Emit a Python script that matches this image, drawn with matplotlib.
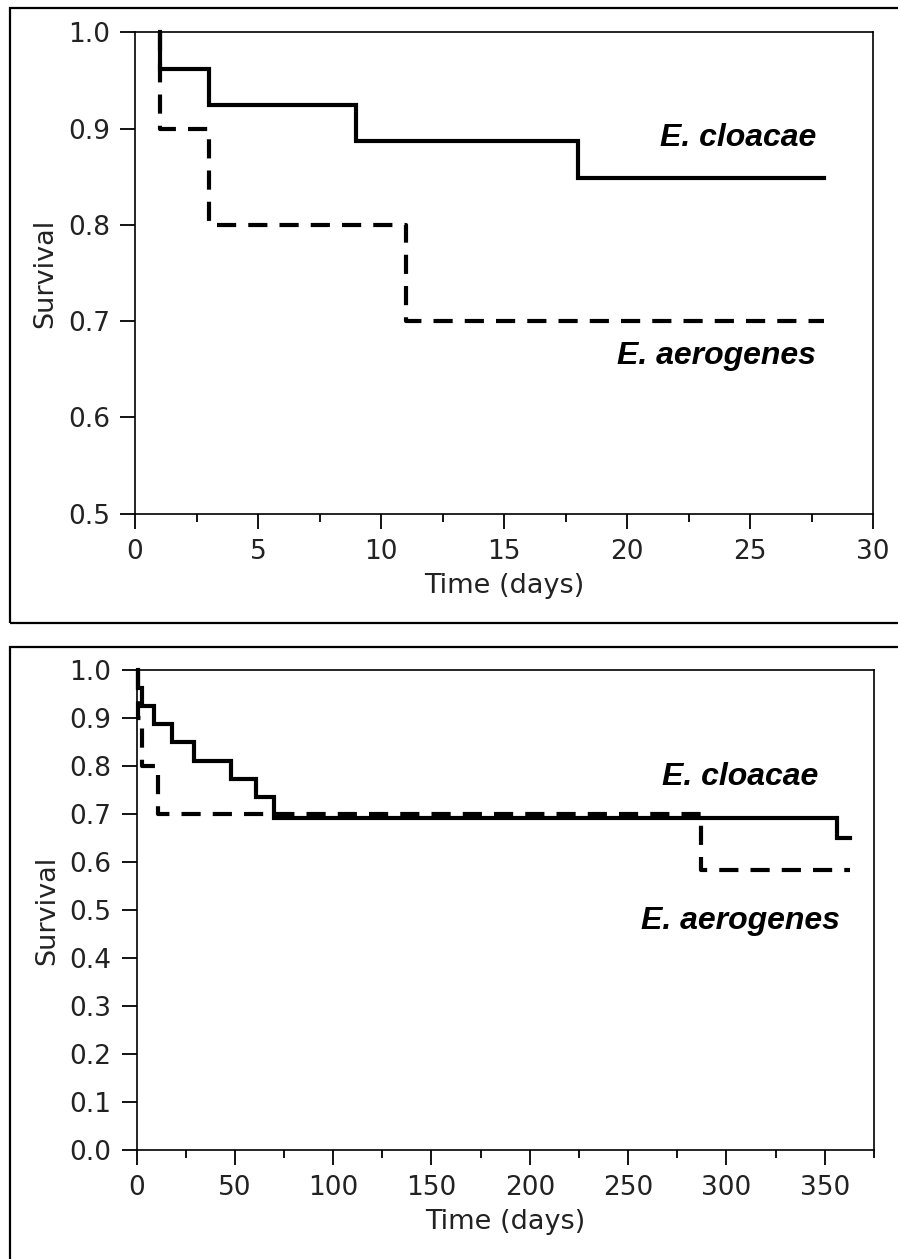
#Kaplan-Meier style survival curves for E. cloacae vs E. aerogenes
#Top panel: first 30 days, bottom panel: one year follow-up

import matplotlib
matplotlib.use("Agg")
import matplotlib.pyplot as plt
from matplotlib.patches import Rectangle
from matplotlib.ticker import MultipleLocator

#Data (event day, survival after event, last entry = end of follow-up)
#Top panel (days 0-30)
short_cloacae_days = [1, 3, 9, 18, 28]
short_cloacae_surv = [0.962, 0.925, 0.887, 0.849, 0.849]
short_aerogenes_days = [1, 3, 11, 28]
short_aerogenes_surv = [0.9, 0.8, 0.7, 0.7]

#Bottom panel (days 0-365)
long_cloacae_days = [1, 3, 9, 18, 29, 48, 61, 70, 356, 363]
long_cloacae_surv = [0.962, 0.925, 0.887, 0.849, 0.811, 0.773, 0.735, 0.692, 0.651, 0.651]
long_aerogenes_days = [1, 3, 11, 287, 363]
long_aerogenes_surv = [0.9, 0.8, 0.7, 0.583, 0.583]

labels = ["E. cloacae", "E. aerogenes"]

W, H = 898, 1259
fig = plt.figure(figsize=(W / 100, H / 100), dpi=100)
fig.patch.set_facecolor("white")

#Helper to convert pixel boxes to figure fractions
def px_box(left, top, right, bottom):
    return [left / W, 1 - bottom / H, (right - left) / W, (bottom - top) / H]

#Outer frames around each panel
for top, bottom in [(8, 623), (647, 1275)]:
    x0, y0, w, h = px_box(10, top, 910, bottom)
    fig.add_artist(Rectangle((x0, y0), w, h, transform=fig.transFigure,
                             fill=False, edgecolor="black", linewidth=1.6))

def style_axes(ax, xmax, xmajor, xminor, ymin, ymax):
    ax.set_xlim(0, xmax)
    ax.set_ylim(ymin, ymax)
    ax.xaxis.set_major_locator(MultipleLocator(xmajor))
    ax.xaxis.set_minor_locator(MultipleLocator(xminor))
    ax.yaxis.set_major_locator(MultipleLocator(0.1))
    ax.yaxis.set_major_formatter(plt.FuncFormatter(lambda v, p: f"{v:.1f}"))
    for sp in ax.spines.values():
        sp.set_linewidth(1.2)
    ax.tick_params(axis="both", which="major", direction="out", length=11,
                   width=1.3, labelsize=19, pad=7, colors="black")
    ax.tick_params(axis="x", which="minor", direction="out", length=6, width=1.3)
    ax.tick_params(axis="y", which="minor", left=False)
    for lab in ax.get_xticklabels() + ax.get_yticklabels():
        lab.set_color("#222222")
    ax.set_xlabel("Time (days)", fontsize=19.5, color="#222222", labelpad=6)
    ax.set_ylabel("Survival", fontsize=19.5, color="#222222", labelpad=7)

#Curves start at 1.0 on the first event day, then step down (post)
def km_step(ax, days, surv, **kw):
    x = [days[0]] + list(days)
    y = [1.0] + list(surv)
    ax.step(x, y, where="post", color="black", linewidth=3.0, clip_on=False, **kw)

def draw_curves(ax, c_days, c_surv, a_days, a_surv):
    km_step(ax, c_days, c_surv, solid_joinstyle="miter", zorder=3)
    km_step(ax, a_days, a_surv, linestyle=(0, (4.6, 2.9)),
            dash_capstyle="butt", zorder=4)

label_style = dict(fontsize=23, fontweight="bold", fontstyle="italic",
                   family="Liberation Sans", ha="right", va="baseline")

#Top panel
ax1 = fig.add_axes(px_box(135, 32.3, 873, 513.8))
draw_curves(ax1, short_cloacae_days, short_cloacae_surv,
            short_aerogenes_days, short_aerogenes_surv)
style_axes(ax1, 30, 5, 2.5, 0.5, 1.0)
ax1.text(27.71, 0.882, labels[0], **label_style)
ax1.text(27.68, 0.656, labels[1], **label_style)

#Bottom panel
ax2 = fig.add_axes(px_box(136.5, 670, 874, 1150))
draw_curves(ax2, long_cloacae_days, long_cloacae_surv,
            long_aerogenes_days, long_aerogenes_surv)
style_axes(ax2, 375, 50, 25, 0.0, 1.0)
ax2.text(346.8, 0.761, labels[0], **label_style)
ax2.text(357.5, 0.460, labels[1], **label_style)

fig.savefig("out.png", dpi=100)
